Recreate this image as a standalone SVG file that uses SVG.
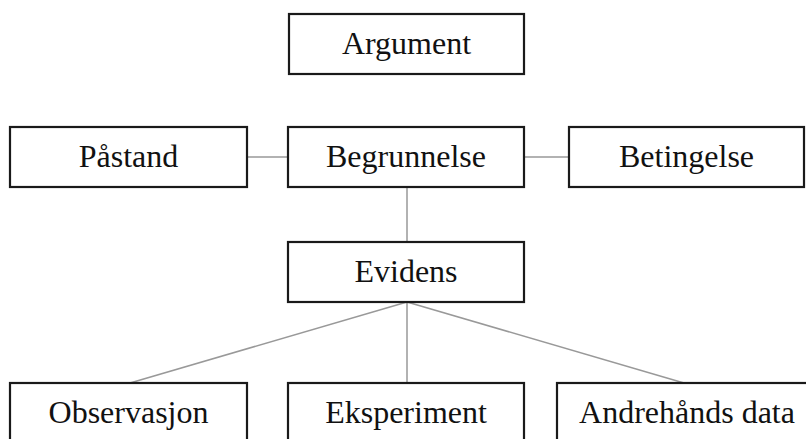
<svg xmlns="http://www.w3.org/2000/svg" width="806" height="439" viewBox="0 0 806 439">
  <style>
    .box { fill: #ffffff; stroke: #1a1a1a; stroke-width: 2.2; }
    .lbl { font-family: "Liberation Serif", "DejaVu Serif", serif; font-size: 32px; fill: #111111; text-anchor: middle; }
    .link { stroke: #999999; stroke-width: 1.5; fill: none; }
  </style>
  <rect width="806" height="439" fill="#ffffff"/>

  <g id="connectors">
    <line class="link" x1="247" y1="157" x2="288" y2="157"/>
    <line class="link" x1="524" y1="157" x2="569" y2="157"/>
    <line class="link" x1="407" y1="187" x2="407" y2="242"/>
    <line class="link" x1="407" y1="302" x2="130" y2="383"/>
    <line class="link" x1="407" y1="302" x2="407" y2="383"/>
    <line class="link" x1="407" y1="302" x2="684" y2="383"/>
  </g>

  <g id="argument">
    <rect class="box" x="289" y="14" width="235" height="60"/>
    <text class="lbl" x="406.5" y="54">Argument</text>
  </g>

  <g id="pastand">
    <rect class="box" x="10" y="127" width="237" height="60"/>
    <text class="lbl" x="128.5" y="167">Påstand</text>
  </g>

  <g id="begrunnelse">
    <rect class="box" x="288" y="127" width="236" height="60"/>
    <text class="lbl" x="406" y="167">Begrunnelse</text>
  </g>

  <g id="betingelse">
    <rect class="box" x="569" y="127" width="235" height="60"/>
    <text class="lbl" x="686.5" y="167">Betingelse</text>
  </g>

  <g id="evidens">
    <rect class="box" x="288" y="242" width="236" height="60"/>
    <text class="lbl" x="406" y="282">Evidens</text>
  </g>

  <g id="observasjon">
    <rect class="box" x="10" y="383" width="237" height="60"/>
    <text class="lbl" x="128.5" y="423">Observasjon</text>
  </g>

  <g id="eksperiment">
    <rect class="box" x="288" y="383" width="236" height="60"/>
    <text class="lbl" x="406" y="423">Eksperiment</text>
  </g>

  <g id="andrehands-data">
    <rect class="box" x="557" y="383" width="260" height="60"/>
    <text class="lbl" x="687" y="423">Andrehånds data</text>
  </g>
</svg>
